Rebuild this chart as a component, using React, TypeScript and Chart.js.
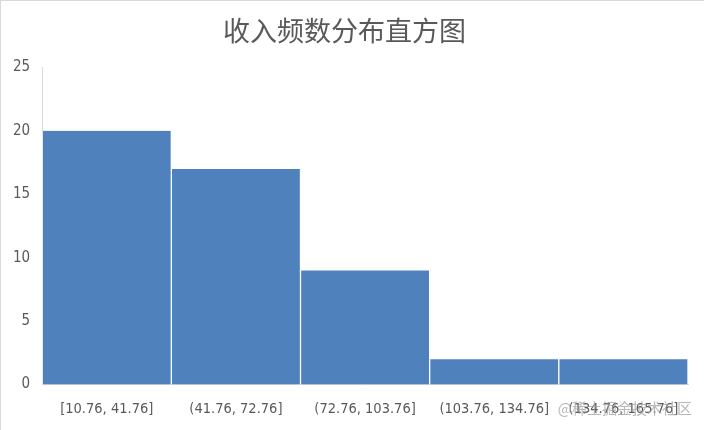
import React, { useEffect, useRef } from 'react';
import { Chart, registerables } from 'chart.js';

Chart.register(...registerables);

const categories: string[] = [
  '[10.76, 41.76]',
  '(41.76, 72.76]',
  '(72.76, 103.76]',
  '(103.76, 134.76]',
  '(134.76, 165.76]',
];
const counts: number[] = [20, 17, 9, 2, 2];
const chartTitle = '收入频数分布直方图';
const watermark = '@稀土掘金技术社区';

const tickFont = '"DejaVu Sans Condensed", Roboto, sans-serif';

const App: React.FC = () => {
  const chartRef = useRef<HTMLCanvasElement>(null);
  const chartInstance = useRef<Chart>();

  useEffect(() => {
    if (chartRef.current) {
      chartInstance.current = new Chart(chartRef.current, {
        type: 'bar',
        data: {
          labels: categories,
          datasets: [
            {
              data: counts,
              backgroundColor: '#4f81bd',
              borderColor: '#ffffff',
              borderWidth: { left: 1, right: 1 },
              categoryPercentage: 1,
              barPercentage: 1,
            },
          ],
        },
        options: {
          animation: false,
          responsive: false,
          layout: { padding: { top: 14, left: 0, right: 16, bottom: -4 } },
          plugins: {
            legend: { display: false },
            tooltip: { enabled: false },
            title: {
              display: true,
              text: chartTitle,
              color: '#595959',
              font: { family: '"Noto Sans CJK SC", sans-serif', size: 27, weight: 'normal' },
              padding: { top: 0, bottom: 20 },
            },
          },
          scales: {
            x: {
              grid: { display: false, drawTicks: false },
              border: { color: '#d9d9d9' },
              ticks: {
                color: '#595959',
                font: { family: tickFont, size: 14.5 },
                padding: 16,
              },
            },
            y: {
              min: 0,
              max: 25,
              grid: { display: false, drawTicks: false },
              border: { color: '#d9d9d9' },
              ticks: {
                stepSize: 5,
                color: '#595959',
                font: { family: tickFont, size: 15 },
                padding: 12,
              },
            },
          },
        },
      });
    }

    return () => {
      if (chartInstance.current) {
        chartInstance.current.destroy();
      }
    };
  }, []);

  return (
    <div
      style={{
        position: 'fixed',
        left: 0,
        top: 0,
        width: 704,
        height: 430,
        background: '#fff',
        boxSizing: 'border-box',
        borderTop: '1px solid #d9d9d9',
        borderLeft: '1px solid #d9d9d9',
      }}
    >
      <canvas ref={chartRef} width={703} height={429} />
      <span
        style={{
          position: 'absolute',
          right: 12,
          bottom: 12,
          color: 'rgba(160,160,160,0.75)',
          fontFamily: '"Noto Sans CJK SC", sans-serif',
          fontSize: 15,
        }}
      >
        {watermark}
      </span>
    </div>
  );
};

export default App;
